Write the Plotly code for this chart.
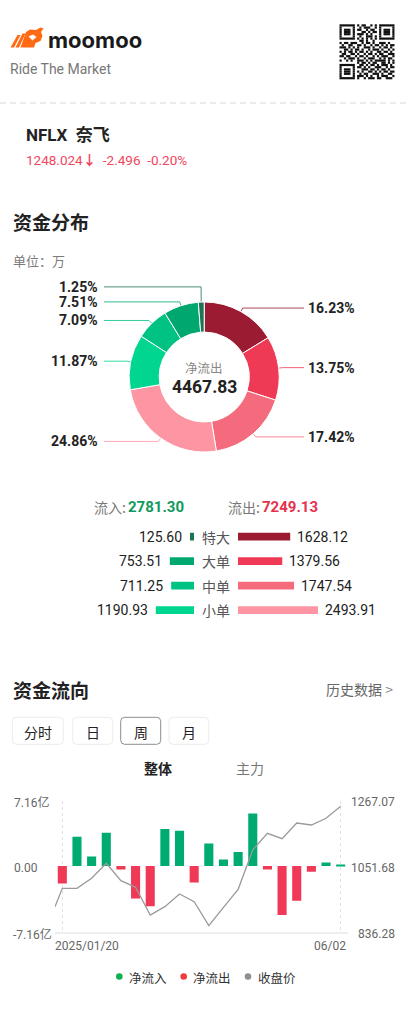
import math
import plotly.graph_objects as go

# ---------------- data ----------------
stock_code = "NFLX"
stock_name = "奈飞"
last_price = "1248.024"
change = "-2.496"
change_pct = "-0.20%"

flow_categories = ["特大", "大单", "中单", "小单"]
inflow = [125.60, 753.51, 711.25, 1190.93]
outflow = [1628.12, 1379.56, 1747.54, 2493.91]
inflow_total = "2781.30"
outflow_total = "7249.13"
net_outflow = "4467.83"

week_dates = ["2025/01/20", "01/27", "02/03", "02/10", "02/17", "02/24", "03/03", "03/10",
              "03/17", "03/24", "03/31", "04/07", "04/14", "04/21", "04/28", "05/05",
              "05/12", "05/19", "05/26", "06/02"]
net_flow_yi = [-1.89, 3.20, 1.06, 3.64, -0.36, -3.53, -4.37, 4.04, 3.86, -1.78,
               2.47, 0.73, 1.53, 5.75, -0.36, -5.35, -3.78, -0.62, 0.38, 0.12]
# first value is the close before the first week
close_price = [918.4, 978.8, 978.8, 1011.6, 1060.9, 1003.8, 982.0, 891.1, 918.4, 960.1,
               934.8, 856.0, 916.4, 975.5, 1104.6, 1159.4, 1141.7, 1193.2, 1186.7, 1208.7, 1248.02]
flow_axis_max = 7.16
price_axis = [836.28, 1051.68, 1267.07]

# ---------------- helpers ----------------
W, H = 408, 1024
FONT = "Roboto, 'Noto Sans CJK SC', sans-serif"
CJK = "'Noto Sans CJK SC', Roboto, sans-serif"
def px(x): return x / W
def py(y): return 1 - y / H

annotations = []
shapes = []

def text(x, y, s, size, color, anchor="left", family=FONT):
    annotations.append(dict(x=px(x), y=py(y), xref="paper", yref="paper", text=s,
                            showarrow=False, xanchor=anchor, yanchor="middle",
                            font=dict(size=size, color=color, family=family)))

def rrect(x0, y0, x1, y1, r):
    return (f"M{px(x0+r)},{py(y0)} L{px(x1-r)},{py(y0)} Q{px(x1)},{py(y0)} {px(x1)},{py(y0+r)} "
            f"L{px(x1)},{py(y1-r)} Q{px(x1)},{py(y1)} {px(x1-r)},{py(y1)} L{px(x0+r)},{py(y1)} "
            f"Q{px(x0)},{py(y1)} {px(x0)},{py(y1-r)} L{px(x0)},{py(y0+r)} Q{px(x0)},{py(y0)} {px(x0+r)},{py(y0)} Z")

def poly(pts, color):
    path = "M" + " L".join(f"{px(a)},{py(b)}" for a, b in pts) + " Z"
    shapes.append(dict(type="path", path=path, xref="paper", yref="paper",
                       fillcolor=color, line=dict(width=0)))

GREEN = "#00a870"
RED = "#ef3a55"
DARK = "#222222"
GRAY = "#7a7a7a"

# ---------------- header ----------------
ORANGE = "#ff6a13"
poly([(10.5, 47.5), (17.5, 35), (20.5, 35), (14, 47.5)], ORANGE)
poly([(15.5, 47.5), (22.5, 33.5), (25.5, 33.5), (19, 47.5)], ORANGE)
poly([(20.5, 47.5), (26, 32), (30, 29.5), (36, 30), (40.5, 27.5), (43.5, 28.5), (41, 32),
      (42.5, 36), (40.5, 41), (35.5, 43), (34, 47.5)], ORANGE)
poly([(28.5, 36.5), (33, 34.5), (36.5, 37), (32.5, 40.5)], "white")
text(46, 39.5, "<b>moomoo</b>", 22, "#1a1a1a", family="Inter, Roboto, sans-serif")
text(8, 68.5, "Ride The Market", 14, "#777777")

# pseudo QR code (decoration)
qr_finder = ["1111111", "1000001", "1011101", "1011101", "1011101", "1000001", "1111111"]
qr_mid_top = ["101100101", "010111001", "110010110", "001101011", "111010100", "010011101", "101010101"]
qr_rows = [qr_finder[i] + "0" + qr_mid_top[i] + "0" + qr_finder[i] for i in range(7)]
qr_rows.append("00000000" + "011010010" + "00000000")
qr_rows += ["1011011100101101001110100", "0100110011010010110101011", "1110101010011101001011010",
            "0011010110100101110100101", "1010110101101010011011010", "0110011010010110101100111",
            "1101100101101001010111001", "0010111010010111001010110", "1001010011101010111110101"]
qr_rows.append("00000000" + "10110101100110101")
qr_bot = ["01101011010111010", "11010100111001011", "00111011010110100", "10100110101011011",
          "01011001110100110", "11101010010111001", "10010111011001110"]
qr_rows += [qr_finder[i] + "0" + qr_bot[i] for i in range(7)]
qx0, qy0, qm = 339.5, 24.3, 2.2
for r, row in enumerate(qr_rows):
    row = (row + "0" * 25)[:25]
    c = 0
    while c < 25:
        if row[c] == "1":
            s = c
            while c < 25 and row[c] == "1":
                c += 1
            shapes.append(dict(type="rect", xref="paper", yref="paper",
                               x0=px(qx0 + s * qm), x1=px(qx0 + c * qm),
                               y0=py(qy0 + (r + 1) * qm), y1=py(qy0 + r * qm),
                               fillcolor="#111111", line=dict(width=0)))
        else:
            c += 1

shapes.append(dict(type="line", xref="paper", yref="paper", x0=0, x1=1, y0=py(103), y1=py(103),
                   line=dict(color="#ececec", width=2, dash="6px,4px")))

text(24, 135, f"<b>{stock_code}  {stock_name}</b>", 17, DARK)
text(24, 160, f"{last_price}<b>↓</b>  {change}  {change_pct}", 13.5, "#f0465e")

text(11, 221.5, "<b>资金分布</b>", 19, DARK, family=CJK)
text(11, 260, "单位：万", 13, GRAY, family=CJK)

# ---------------- donut ----------------
pie_values = outflow + inflow[::-1]
pie_colors = ["#9b1c32", "#ef3a55", "#f56b7e", "#fe95a3", "#00d68f", "#00c283", "#00a870", "#1d7356"]
cx, cy, R = 204.2, 377, 75
fig = go.Figure()
fig.add_trace(go.Pie(values=pie_values, sort=False, direction="clockwise", rotation=0,
                     hole=0.6, textinfo="none", hoverinfo="skip", showlegend=False,
                     marker=dict(colors=pie_colors, line=dict(color="white", width=1)),
                     domain=dict(x=[px(cx - R), px(cx + R)], y=[py(cy + R), py(cy - R)])))

total = sum(pie_values)
items = []
cum = 0
for v, col in zip(pie_values, pie_colors):
    frac = v / total
    ang = math.radians((cum + frac / 2) * 360)
    cum += frac
    dx, dy = math.sin(ang), -math.cos(ang)
    items.append(dict(pct=f"{frac*100:.2f}%", col=col,
                      p1=(cx + (R + 0.5) * dx, cy + (R + 0.5) * dy),
                      e=(cx + 79 * dx, cy + 79 * dy), right=dx > 0))
for side in (True, False):
    grp = sorted([it for it in items if it["right"] == side], key=lambda d: -d["e"][1])
    prev = None
    for it in grp:
        y = it["e"][1]
        if prev is not None:
            y = min(y, prev - 15)
        it["ly"] = y
        prev = y
for it in items:
    xend = 304 if it["right"] else 104
    path = (f"M{px(it['p1'][0])},{py(it['p1'][1])} L{px(it['e'][0])},{py(it['ly'])} "
            f"L{px(xend)},{py(it['ly'])}")
    shapes.append(dict(type="path", path=path, xref="paper", yref="paper",
                       line=dict(color=it["col"], width=1), opacity=0.8))
    if it["right"]:
        text(306, it["ly"], f"<b>{it['pct']}</b>", 14, DARK)
    else:
        text(100, it["ly"], f"<b>{it['pct']}</b>", 14, DARK, anchor="right")

text(cx, 367.5, "净流出", 12.5, "#888888", anchor="center", family=CJK)
text(cx, 386.5, f"<b>{net_outflow}</b>", 17.5, DARK, anchor="center")

# ---------------- flow table ----------------
text(92, 506.5, "流入:", 14, "#777777", family=CJK)
text(125.5, 506.5, f"<b>{inflow_total}</b>", 15, "#109a5e")
text(226, 506.5, "流出:", 14, "#777777", family=CJK)
text(259.5, 506.5, f"<b>{outflow_total}</b>", 15, "#e5324c")

rows = list(range(len(flow_categories)))
vmax = max(inflow + outflow)
in_colors = ["#1d7356", "#00a870", "#00c283", "#00d68f"]
out_colors = ["#9b1c32", "#ef3a55", "#f56b7e", "#fe95a3"]
fig.add_trace(go.Bar(y=rows, x=inflow, orientation="h", xaxis="x2", yaxis="y2", width=0.32,
                     marker=dict(color=in_colors, line=dict(width=0)), hoverinfo="skip", showlegend=False))
fig.add_trace(go.Bar(y=rows, x=outflow, orientation="h", xaxis="x3", yaxis="y3", width=0.32,
                     marker=dict(color=out_colors, line=dict(width=0)), hoverinfo="skip", showlegend=False))
for r, cat, vi, vo in zip(rows, flow_categories, inflow, outflow):
    annotations.append(dict(x=vi, y=r, xref="x2", yref="y2", text=f"{vi:.2f}", showarrow=False,
                            xanchor="right", xshift=-6, font=dict(size=14, color=DARK, family=FONT)))
    annotations.append(dict(x=vo, y=r, xref="x3", yref="y3", text=f"{vo:.2f}", showarrow=False,
                            xanchor="left", xshift=5, font=dict(size=14, color=DARK, family=FONT)))
    annotations.append(dict(x=px(216), y=r, xref="paper", yref="y2", text=cat, showarrow=False,
                            xanchor="center", font=dict(size=14, color="#555555", family=CJK)))

# ---------------- money flow section ----------------
text(11, 689, "<b>资金流向</b>", 19, DARK, family=CJK)
text(395, 689, "历史数据 <span style='color:#888888'>&gt;</span>", 14, "#666666", anchor="right", family=CJK)
buttons = [("分时", 12.3, 63.3), ("日", 72.7, 112.7), ("周", 120.7, 160.7), ("月", 169, 208.7)]
for lbl, x0, x1 in buttons:
    sel = lbl == "周"
    shapes.append(dict(type="path", path=rrect(x0, 717.3, x1, 744.3, 4), xref="paper", yref="paper",
                       line=dict(color="#8c8c8c" if sel else "#ececec", width=1), fillcolor="white"))
    text((x0 + x1) / 2, 731.5, lbl, 14, DARK, anchor="center", family=CJK)
text(158, 768, "<b>整体</b>", 14, DARK, anchor="center", family=CJK)
text(250, 768, "主力", 14, "#777777", anchor="center", family=CJK)

idx = list(range(len(week_dates)))
bar_colors = ["#00ab72" if v >= 0 else "#ef3957" for v in net_flow_yi]
fig.add_trace(go.Bar(x=idx, y=net_flow_yi, width=0.62, marker=dict(color=bar_colors, line=dict(width=0)),
                     hoverinfo="skip", showlegend=False))
price_x = [-0.5] + idx
fig.add_trace(go.Scatter(x=price_x, y=close_price, yaxis="y4", mode="lines",
                         line=dict(color="#9a9a9a", width=1.3), hoverinfo="skip", showlegend=False))

# axis labels
text(11.5, 802.5, f"{flow_axis_max:.2f}亿", 12, "#666666")
text(11.5, 867.5, "0.00", 12, "#666666")
text(10.5, 934, f"-{flow_axis_max:.2f}亿", 12, "#666666")
text(397, 801.5, f"{price_axis[2]:.2f}", 12, "#666666", anchor="right")
text(397, 867.5, f"{price_axis[1]:.2f}", 12, "#666666", anchor="right")
text(397, 933.5, f"{price_axis[0]:.2f}", 12, "#666666", anchor="right")
annotations.append(dict(x=-0.5, y=py(946), xref="x", yref="paper", text=week_dates[0], showarrow=False,
                        xanchor="left", xshift=-2, yanchor="middle",
                        font=dict(size=12, color="#666666", family=FONT)))
annotations.append(dict(x=len(idx) - 0.5, y=py(946), xref="x", yref="paper", text=week_dates[-1],
                        showarrow=False, xanchor="right", yanchor="middle",
                        font=dict(size=12, color="#666666", family=FONT)))

# legend
legend_items = [("净流入", "#0db04f", 119.3), ("净流出", "#f03c3c", 183.7), ("收盘价", "#8e8e93", 248)]
for lbl, col, x in legend_items:
    shapes.append(dict(type="circle", xref="paper", yref="paper", x0=px(x - 3.3), x1=px(x + 3.3),
                       y0=py(976.5 + 3.3), y1=py(976.5 - 3.3), fillcolor=col, line=dict(width=0)))
    text(x + 7.5, 977, lbl, 12.5, "#333333", family=CJK)

fig.update_layout(
    width=W, height=H, margin=dict(l=0, r=0, t=0, b=0, pad=0),
    paper_bgcolor="white", plot_bgcolor="white", showlegend=False,
    font=dict(family=FONT),
    annotations=annotations, shapes=shapes,
    xaxis=dict(domain=[px(55), px(348)], range=[-0.5, len(idx) - 0.5], tickvals=[0, len(idx) - 1],
               showticklabels=False, ticks="", showgrid=True, gridcolor="#e2e2e2", griddash="dot",
               gridwidth=1, showline=True, linecolor="#eeeeee", linewidth=1.5, zeroline=False,
               fixedrange=True),
    yaxis=dict(domain=[py(931.7), py(800.5)], range=[-flow_axis_max, flow_axis_max],
               tickvals=[flow_axis_max], showticklabels=False, ticks="", showgrid=True,
               gridcolor="#e2e2e2", griddash="dot", zeroline=False, fixedrange=True),
    yaxis4=dict(overlaying="y", anchor="x", side="right", range=[price_axis[0], price_axis[2]],
                visible=False, showgrid=False, zeroline=False),
    xaxis2=dict(domain=[px(194 - 80), px(194)], range=[vmax, 0], visible=False, anchor="y2"),
    yaxis2=dict(domain=[py(622.3), py(524.4)], range=[3.5, -0.5], visible=False, anchor="x2"),
    xaxis3=dict(domain=[px(238), px(238 + 80)], range=[0, vmax], visible=False, anchor="y3"),
    yaxis3=dict(domain=[py(622.3), py(524.4)], range=[3.5, -0.5], visible=False, anchor="x3"),
)

fig.write_html("out.html")
